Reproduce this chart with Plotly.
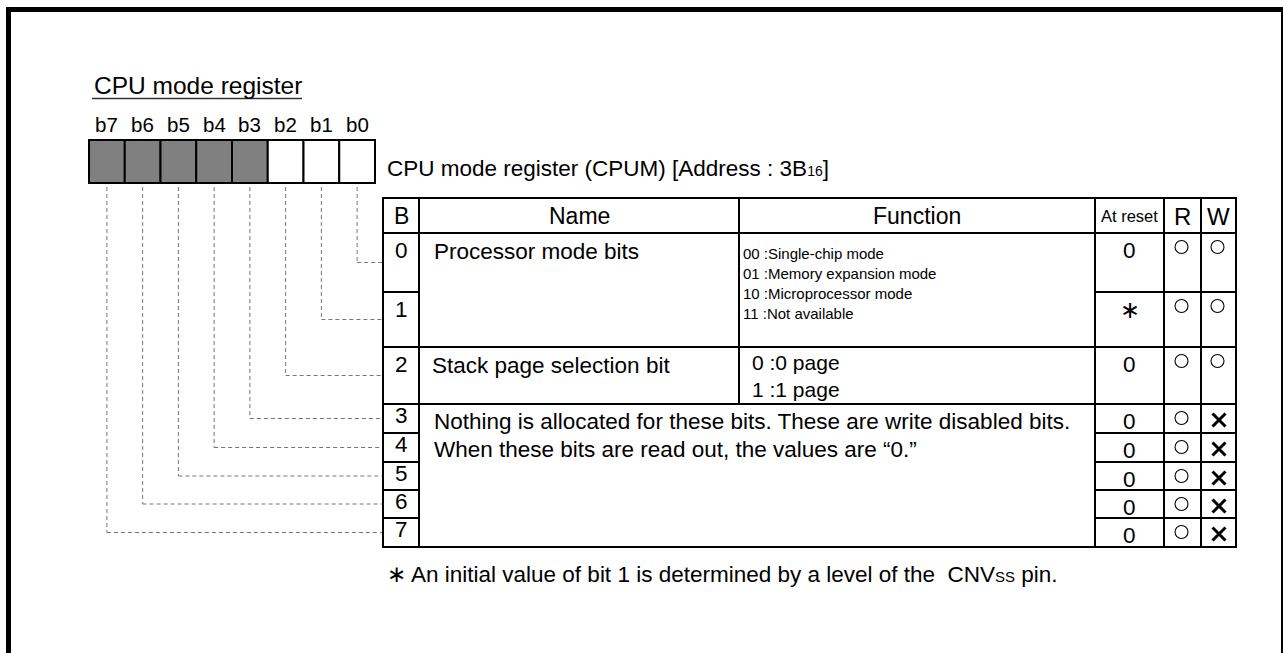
import plotly.graph_objects as go

W, H = 1283, 653
FONT = "Liberation Sans, Arial, sans-serif"

# ---------------- data ----------------
title_text = "CPU mode register"
register_label = "CPU mode register (CPUM) [Address : 3B<span style='font-size:14px'>16</span>]"
bit_labels = ["b7", "b6", "b5", "b4", "b3", "b2", "b1", "b0"]
bit_reserved = [True, True, True, True, True, False, False, False]   # b7 .. b0
headers = ["B", "Name", "Function", "At reset", "R", "W"]
table_bits = ["0", "1", "2", "3", "4", "5", "6", "7"]
at_reset = ["0", "∗", "0", "0", "0", "0", "0", "0"]
read_ok = [True, True, True, True, True, True, True, True]
write_ok = [True, True, True, False, False, False, False, False]
name_proc = "Processor mode bits"
func_proc = ["00 :Single-chip mode", "01 :Memory expansion mode",
             "10 :Microprocessor mode", "11 :Not available"]
name_stack = "Stack page selection bit"
func_stack = ["0 :0 page", "1 :1 page"]
reserved_note = ["Nothing is allocated for these bits. These are write disabled bits.",
                 "When these bits are read out, the values are \u201c0.\u201d"]
footnote = "\u2217 An initial value of bit 1 is determined by a level of the  CNV<span style='font-size:15px'>SS</span> pin."

# ---------------- geometry ----------------
box_x0, box_w, box_y0, box_y1 = 89, 35.75, 140, 183
col = [383, 419, 739, 1095, 1164, 1201, 1236]
rows = [198, 233, 292, 347, 404, 433, 462, 490, 518, 547]
TW = 2

shapes = []
ann = []


def line(x0, y0, x1, y1, width=TW, color="black", dash=None):
    d = dict(type="line", x0=x0, y0=y0, x1=x1, y1=y1, xref="x", yref="y",
             line=dict(color=color, width=width))
    if dash:
        d["line"]["dash"] = dash
    shapes.append(d)


def text(x, y, s, size=22.5, anchor="left"):
    ann.append(dict(x=x, y=y, xref="x", yref="y", text=s, showarrow=False,
                    xanchor=anchor, yanchor="middle",
                    font=dict(family=FONT, size=size, color="black")))


# outer frame
shapes.append(dict(type="rect", x0=8.5, y0=9.5, x1=1283.5, y1=700, xref="x", yref="y",
                   line=dict(color="black", width=5), fillcolor="rgba(0,0,0,0)"))

# title
text(92, 85, title_text, size=24.5)
line(92, 98.5, 302, 98.5, width=1.3, color="#333")

# bit boxes + labels
for i, lab in enumerate(bit_labels):
    x0 = box_x0 + i * box_w
    shapes.append(dict(type="rect", x0=x0, x1=x0 + box_w, y0=box_y0, y1=box_y1,
                       xref="x", yref="y", line=dict(color="black", width=2),
                       fillcolor="#808080" if bit_reserved[i] else "white", layer="above"))
    text(x0 + box_w / 2, 124, lab, size=20.5, anchor="center")

text(385, 168, register_label, size=22.5)

# dashed leader lines
for i in range(8):
    bit = 7 - i
    cx = box_x0 + i * box_w + box_w / 2
    ry = (rows[bit + 1] + rows[bit + 2]) / 2
    line(cx, box_y1 + 4, cx, ry, width=1, color="#777", dash="4px,3px")
    line(cx, ry, col[0], ry, width=1, color="#777", dash="4px,3px")

# table grid
L, R = col[0], col[-1]
shapes.append(dict(type="rect", x0=L, x1=R, y0=rows[0], y1=rows[-1], xref="x", yref="y",
                   line=dict(color="black", width=TW), fillcolor="rgba(0,0,0,0)"))
for c in (col[1], col[3], col[4], col[5]):
    line(c, rows[0], c, rows[-1])
line(col[2], rows[0], col[2], rows[4])
for r in (rows[1], rows[3], rows[4]):
    line(L, r, R, r)
for r in (rows[2], rows[5], rows[6], rows[7], rows[8]):
    line(col[0], r, col[1], r)
    line(col[3], r, col[6], r)

# header
hy = (rows[0] + rows[1]) / 2 + 0.5
hsizes = [23, 23, 23, 16.5, 24, 24]
for j, h in enumerate(headers):
    text((col[j] + col[j + 1]) / 2, hy, h, size=hsizes[j], anchor="center")

# bit rows
rc = (col[4] + col[5]) / 2 - 1
wc = (col[5] + col[6]) / 2 - 1
rx, ry_, wx_o, wy_o, wx_x, wy_x = [], [], [], [], [], []
for k, b in enumerate(table_bits):
    top, bot = rows[k + 1], rows[k + 2]
    big = (bot - top) > 40
    text((col[0] + col[1]) / 2, top + (17 if big else 11), b, size=22.5, anchor="center")
    text((col[3] + col[4]) / 2, top + 17, at_reset[k],
         size=22.5 if at_reset[k] != "∗" else 24, anchor="center")
    if read_ok[k]:
        rx.append(rc); ry_.append(top + 14)
    if write_ok[k]:
        wx_o.append(wc); wy_o.append(top + 14)
    else:
        wx_x.append(wc + 1.5); wy_x.append(top + 16)

text(432, rows[1] + 18, name_proc)
for n, f in enumerate(func_proc):
    text(741, 253 + 20 * n, f, size=15)
text(430, rows[3] + 18, name_stack)
for n, f in enumerate(func_stack):
    text(750, 362 + 27 * n, f, size=21)
for n, s in enumerate(reserved_note):
    text(432, 421 + 28.5 * n, s)

text(385, 574, footnote)

fig = go.Figure()
fig.add_trace(go.Scatter(x=rx + wx_o, y=ry_ + wy_o, mode="markers", hoverinfo="skip",
                         marker=dict(symbol="circle-open", size=13, color="black",
                                     line=dict(width=1.1))))
fig.add_trace(go.Scatter(x=wx_x, y=wy_x, mode="markers", hoverinfo="skip",
                         marker=dict(symbol="x-thin-open", size=13, color="black",
                                     line=dict(width=3))))

fig.update_layout(
    width=W, height=H, margin=dict(l=0, r=0, t=0, b=0),
    paper_bgcolor="white", plot_bgcolor="white", showlegend=False,
    xaxis=dict(range=[0, W], visible=False, fixedrange=True),
    yaxis=dict(range=[H, 0], visible=False, fixedrange=True),
    shapes=shapes, annotations=ann,
)
fig.write_html("out.html", config={"displayModeBar": False},
               post_script="document.body.style.margin='0';document.body.style.overflow='hidden';")
